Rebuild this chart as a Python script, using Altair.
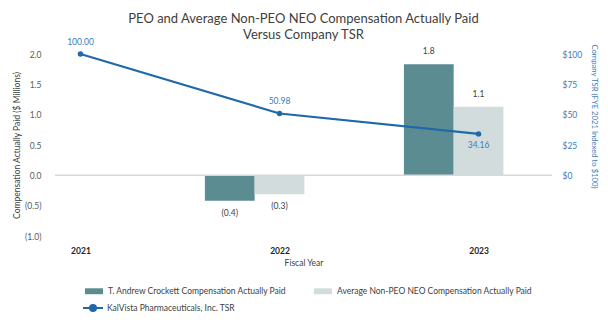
import altair as alt
import pandas as pd

years = ["2021", "2022", "2023"]
peo_cap = [None, -0.42, 1.83]
neo_cap = [None, -0.31, 1.13]
tsr = [100.00, 50.98, 34.16]

peo_name = "T. Andrew Crockett Compensation Actually Paid"
neo_name = "Average Non-PEO NEO Compensation Actually Paid"
tsr_name = "KalVista Pharmaceuticals, Inc. TSR"
left_ticks = [-1.0, -0.5, 0.0, 0.5, 1.0, 1.5, 2.0]
right_ticks = [0, 25, 50, 75, 100]

FONT = "Lato"
TXT = "#404040"
PEO_C = "#5B8C91"
NEO_C = "#D3DCDD"
TSR_C = "#1F69AA"
TSR_TXT = "#3A7DBA"

# bar slot layout within each year group (in x units)
slot = {peo_name: (-0.375, -0.125), neo_name: (-0.125, 0.125)}

rows = []
for i, y in enumerate(years):
    for name, vals in ((peo_name, peo_cap), (neo_name, neo_cap)):
        v = vals[i]
        if v is None:
            continue
        rows.append({"idx": i, "year": y, "series": name, "value": v,
                     "x0": i + slot[name][0], "x1": i + slot[name][1]})
bars_df = pd.DataFrame(rows)
bars_df["label"] = bars_df["value"].map(
    lambda v: f"({abs(v):.1f})" if v < 0 else f"{v:.1f}")

tsr_df = pd.DataFrame({"idx": list(range(len(years))), "year": years,
                       "tsr": tsr, "series": tsr_name})
tsr_df["label"] = tsr_df["tsr"].map(lambda v: f"{v:.2f}")
tsr_df["pos"] = ["above", "above", "below"]

XDOM = [-0.128, 2.369]
xscale = alt.Scale(domain=XDOM, nice=False, zero=False)
yl = alt.Scale(domain=[-1, 2], nice=False)
yr = alt.Scale(domain=[-50, 100], nice=False)

xaxis = alt.Axis(values=[0, 1, 2], labelExpr="['2021','2022','2023'][datum.value]",
                 grid=False, ticks=False, domain=False, labelFontWeight="bold",
                 labelFontSize=8.5, labelColor="#262626", labelPadding=10,
                 title="Fiscal Year", titleFontSize=8.5, titleFontWeight="normal",
                 titleColor=TXT, titlePadding=4, labelFont=FONT, titleFont=FONT)

yaxis_l = alt.Axis(values=left_ticks,
                   labelExpr="datum.value < 0 ? '(' + format(-datum.value, '.1f') + ')' : format(datum.value, '.1f')",
                   grid=False, ticks=False, domain=False, labelPadding=14,
                   labelOverlap=False, labelFlush=False, labelBound=False,
                   labelFontSize=8.5, labelColor="#595959", labelFont=FONT,
                   title="Compensation Actually Paid ($ Millions)", titleFontSize=8.5,
                   titleFontWeight="normal", titleColor=TXT, titlePadding=3, titleFont=FONT)

yaxis_r = alt.Axis(orient="right", values=right_ticks,
                   labelExpr="'$' + datum.value", grid=False, ticks=False, domain=False,
                   labelOverlap=False, labelFlush=False,
                   labelPadding=10, labelFontSize=8.5, labelColor=TSR_TXT, labelFont=FONT,
                   title="Company TSR (FYE 2021 Indexed to $100)", titleFontSize=7.7,
                   titleFontWeight="normal", titleColor=TSR_TXT, titlePadding=8,
                   titleFont=FONT, titleY=62)

rect_path = "M-1,-0.33L1,-0.33L1,0.33L-1,0.33Z"
line_path = ("M-1,0L-0.3,0M0.3,0L1,0M0.3,0A0.3,0.3 0 1 1 -0.3,0"
             "A0.3,0.3 0 1 1 0.3,0Z")

base_b = alt.Chart(bars_df)
bars = base_b.mark_rect().encode(
    x=alt.X("x0:Q", scale=xscale, axis=xaxis),
    x2="x1:Q",
    y=alt.Y("value:Q", scale=yl, axis=yaxis_l),
    y2=alt.datum(0),
    color=alt.Color("series:N",
                    scale=alt.Scale(domain=[peo_name, neo_name], range=[PEO_C, NEO_C]),
                    legend=alt.Legend(title=None, orient="none", direction="horizontal",
                                      legendX=29, legendY=227, symbolType=rect_path,
                                      symbolSize=324, labelFontSize=8.5, labelColor=TXT,
                                      labelFont=FONT, columnPadding=26, labelOffset=4,
                                      labelLimit=0, symbolOpacity=1)),
)
zero_rule = base_b.mark_rule(color="#D9D9D9", strokeWidth=1).encode(
    y=alt.datum(0, axis=yaxis_l))
bar_text_pos = base_b.transform_filter("datum.value >= 0").mark_text(
    dy=-8, fontSize=8.5, color=TXT, font=FONT, baseline="bottom").encode(
    x=alt.X("mid:Q", scale=xscale, axis=xaxis),
    y=alt.Y("value:Q", scale=yl, axis=yaxis_l), text="label:N"
).transform_calculate(mid="(datum.x0 + datum.x1) / 2")
bar_text_neg = base_b.transform_filter("datum.value < 0").mark_text(
    dy=8, fontSize=8.5, color=TXT, font=FONT, baseline="top").encode(
    x=alt.X("mid:Q", scale=xscale, axis=xaxis),
    y=alt.Y("value:Q", scale=yl, axis=yaxis_l), text="label:N"
).transform_calculate(mid="(datum.x0 + datum.x1) / 2")

left = alt.layer(bars, zero_rule, bar_text_pos, bar_text_neg)

base_t = alt.Chart(tsr_df)
line = base_t.mark_line(strokeWidth=2.2).encode(
    x=alt.X("idx:Q", scale=xscale, axis=xaxis),
    y=alt.Y("tsr:Q", scale=yr, axis=yaxis_r),
    color=alt.Color("series:N", scale=alt.Scale(range=[TSR_C]),
                    legend=alt.Legend(title=None, orient="none", legendX=27, legendY=243,
                                      symbolType=line_path, symbolSize=400,
                                      symbolStrokeWidth=2, symbolFillColor=TSR_C,
                                      symbolStrokeColor=TSR_C, labelLimit=0,
                                      labelFontSize=8.5, labelColor=TXT, labelFont=FONT,
                                      labelOffset=3)),
)
pts = base_t.mark_circle(size=30, color=TSR_C, opacity=1).encode(
    x=alt.X("idx:Q", scale=xscale, axis=xaxis), y=alt.Y("tsr:Q", scale=yr, axis=yaxis_r))
tsr_above = base_t.transform_filter("datum.pos == 'above'").mark_text(
    dy=-7, baseline="bottom", fontSize=8.5, color=TSR_TXT, font=FONT).encode(
    x=alt.X("idx:Q", scale=xscale, axis=xaxis), y=alt.Y("tsr:Q", scale=yr, axis=yaxis_r),
    text="label:N")
tsr_below = base_t.transform_filter("datum.pos == 'below'").mark_text(
    dy=7, baseline="top", fontSize=8.5, color=TSR_TXT, font=FONT).encode(
    x=alt.X("idx:Q", scale=xscale, axis=xaxis), y=alt.Y("tsr:Q", scale=yr, axis=yaxis_r),
    text="label:N")

right = alt.layer(line, pts, tsr_above, tsr_below)

chart = alt.layer(left, right).resolve_scale(
    y="independent", color="independent"
).properties(
    width=497, height=182,
    padding={"left": 55, "top": 54, "right": 56, "bottom": 87},
    autosize=alt.AutoSizeParams(type="none"),
    background="white",
    title=alt.TitleParams(
        text=["PEO and Average Non-PEO NEO Compensation Actually Paid",
              "Versus Company TSR"],
        fontSize=13, font=FONT, fontWeight="normal", color=TXT, anchor="middle",
        offset=-4, lineHeight=16),
).configure_view(stroke=None).configure_axis(labelOverlap=False)

chart.save("out.html", embed_options={"renderer": "svg", "actions": False})
